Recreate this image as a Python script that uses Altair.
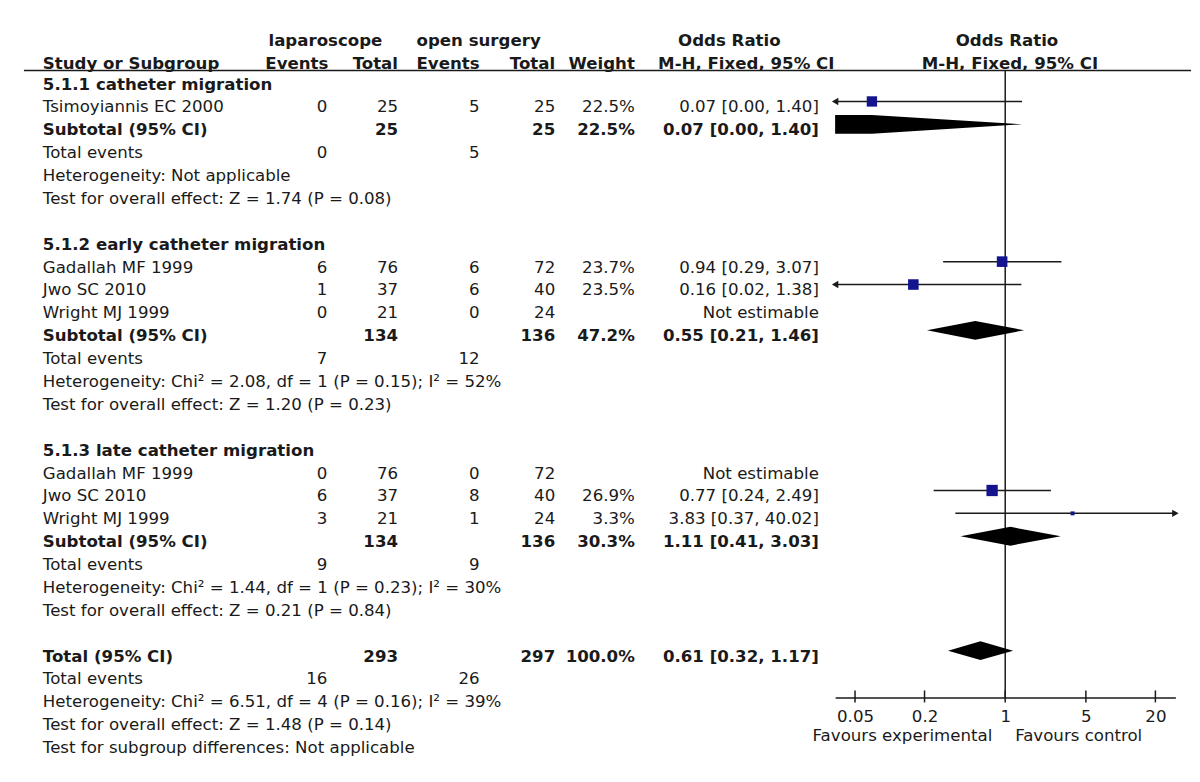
import math
import altair as alt
import pandas as pd

# ---------------- data ----------------
group_names = ["5.1.1 catheter migration", "5.1.2 early catheter migration", "5.1.3 late catheter migration"]

study_group = [0, 1, 1, 1, 2, 2, 2]
study_names = ["Tsimoyiannis EC 2000", "Gadallah MF 1999", "Jwo SC 2010", "Wright MJ 1999",
               "Gadallah MF 1999", "Jwo SC 2010", "Wright MJ 1999"]
lap_events = [0, 6, 1, 0, 0, 6, 3]
lap_total = [25, 76, 37, 21, 76, 37, 21]
open_events = [5, 6, 6, 0, 0, 8, 1]
open_total = [25, 72, 40, 24, 72, 40, 24]
study_weight = [22.5, 23.7, 23.5, None, None, 26.9, 3.3]
study_or = [0.07, 0.94, 0.16, None, None, 0.77, 3.83]
study_lo = [0.00, 0.29, 0.02, None, None, 0.24, 0.37]
study_hi = [1.40, 3.07, 1.38, None, None, 2.49, 40.02]

sub_lap_total = [25, 134, 134]
sub_open_total = [25, 136, 136]
sub_weight = [22.5, 47.2, 30.3]
sub_or = [0.07, 0.55, 1.11]
sub_lo = [0.00, 0.21, 0.41]
sub_hi = [1.40, 1.46, 3.03]
sub_lap_events = [0, 7, 9]
sub_open_events = [5, 12, 9]
sub_heterogeneity = ["Heterogeneity: Not applicable",
                     "Heterogeneity: Chi² = 2.08, df = 1 (P = 0.15); I² = 52%",
                     "Heterogeneity: Chi² = 1.44, df = 1 (P = 0.23); I² = 30%"]
sub_effect = ["Test for overall effect: Z = 1.74 (P = 0.08)",
              "Test for overall effect: Z = 1.20 (P = 0.23)",
              "Test for overall effect: Z = 0.21 (P = 0.84)"]

total_lap_total = 293
total_open_total = 297
total_weight = 100.0
total_or = [0.61, 0.32, 1.17]
total_lap_events = 16
total_open_events = 26
total_heterogeneity = "Heterogeneity: Chi² = 6.51, df = 4 (P = 0.16); I² = 39%"
total_effect = "Test for overall effect: Z = 1.48 (P = 0.14)"
total_subgroup = "Test for subgroup differences: Not applicable"

header_top = ["laparoscope", "open surgery", "Odds Ratio", "Odds Ratio"]
header_bottom = ["Study or Subgroup", "Events", "Total", "Events", "Total", "Weight",
                 "M-H, Fixed, 95% CI", "M-H, Fixed, 95% CI"]
favours = ["Favours experimental", "Favours control"]
tick_values = [0.05, 0.2, 1, 5, 20]

# ---------------- style / layout ----------------
FONT = "DejaVu Sans"
FS = 16.7
TXT = "#1a1a1a"
BLUE = "#14148f"
W, H = 1184, 691
DMIN, DMAX = 0.0336, 29.8
xs = alt.Scale(type="log", domain=[DMIN, DMAX], range=[831.3, 1173.3], nice=False, zero=False, clamp=True)
AX = alt.Axis(values=tick_values, title=None, grid=False, ticks=False, tickSize=0,
              domainColor=TXT, domainWidth=1.5, labelFont=FONT, labelFontSize=FS,
              labelColor=TXT, labelPadding=11, labelExpr="'' + datum.value",
              labelFlush=False, labelOverlap=False)
NROWS = 29
ys = alt.Scale(domain=[0, NROWS], range=[69, 69 + 23 * NROWS], nice=False, zero=False)
HALF = 0.41  # diamond half height in row units

COLS = {"label": (35, "left"), "lap_e": (321, "right"), "lap_t": (392, "right"),
        "open_e": (474, "right"), "open_t": (550, "right"), "weight": (630, "right"),
        "or": (815, "right")}


def f_or(e, lo, hi):
    return "Not estimable" if e is None else f"{e:.2f} [{lo:.2f}, {hi:.2f}]"


def f_w(w):
    return "" if w is None else f"{w:.1f}%"


cells, studies, diamonds = [], [], []


def add(row, col, text, bold):
    if text != "":
        cells.append({"row": row, "col": col, "text": text, "bold": 1 if bold else 0})


def add_diamond(did, row, e, lo, hi):
    pts = []
    if lo <= 0:
        pts.append((DMIN, 1.0))
    elif lo < DMIN:
        pts.append((DMIN, (math.log(DMIN) - math.log(lo)) / (math.log(e) - math.log(lo))))
    else:
        pts.append((lo, 0.0))
    pts.append((e, 1.0))
    pts.append((min(hi, DMAX), 0.0))
    for x, fr in pts:
        diamonds.append({"id": did, "x": x, "top": row - HALF * fr, "bot": row + HALF * fr})


k = 0
for g, gname in enumerate(group_names):
    add(k, "label", gname, True)
    k += 1
    for s in [i for i in range(len(study_names)) if study_group[i] == g]:
        add(k, "label", study_names[s], False)
        add(k, "lap_e", str(lap_events[s]), False)
        add(k, "lap_t", str(lap_total[s]), False)
        add(k, "open_e", str(open_events[s]), False)
        add(k, "open_t", str(open_total[s]), False)
        add(k, "weight", f_w(study_weight[s]), False)
        add(k, "or", f_or(study_or[s], study_lo[s], study_hi[s]), False)
        if study_or[s] is not None:
            studies.append({"row": k, "est": study_or[s], "weight": study_weight[s],
                            "lo": max(study_lo[s], DMIN), "hi": min(study_hi[s], DMAX),
                            "left": study_lo[s] < DMIN, "right": study_hi[s] > DMAX})
        k += 1
    add(k, "label", "Subtotal (95% CI)", True)
    add(k, "lap_t", str(sub_lap_total[g]), True)
    add(k, "open_t", str(sub_open_total[g]), True)
    add(k, "weight", f_w(sub_weight[g]), True)
    add(k, "or", f_or(sub_or[g], sub_lo[g], sub_hi[g]), True)
    add_diamond(f"g{g}", k, sub_or[g], sub_lo[g], sub_hi[g])
    k += 1
    add(k, "label", "Total events", False)
    add(k, "lap_e", str(sub_lap_events[g]), False)
    add(k, "open_e", str(sub_open_events[g]), False)
    k += 1
    add(k, "label", sub_heterogeneity[g], False)
    k += 1
    add(k, "label", sub_effect[g], False)
    k += 2

add(k, "label", "Total (95% CI)", True)
add(k, "lap_t", str(total_lap_total), True)
add(k, "open_t", str(total_open_total), True)
add(k, "weight", f_w(total_weight), True)
add(k, "or", f_or(*total_or), True)
add_diamond("total", k, *total_or)
k += 1
add(k, "label", "Total events", False)
add(k, "lap_e", str(total_lap_events), False)
add(k, "open_e", str(total_open_events), False)
k += 1
add(k, "label", total_heterogeneity, False)
k += 1
add(k, "label", total_effect, False)
k += 1
add(k, "label", total_subgroup, False)

cells_df = pd.DataFrame(cells)
stud_df = pd.DataFrame(studies)
dia_df = pd.DataFrame(diamonds)
left_df = stud_df[stud_df["left"]].assign(x=DMIN)[["row", "x"]]
right_df = stud_df[stud_df["right"]].assign(x=DMAX)[["row", "x"]]
tick_df = pd.DataFrame({"t": tick_values})
one_df = pd.DataFrame({"v": [1]})

Y = lambda f: alt.Y(f, type="quantitative", scale=ys, axis=None)
X = lambda f: alt.X(f, type="quantitative", scale=xs, axis=AX)

layers = []

# header line
layers.append(alt.Chart(one_df).mark_rule(color=TXT, strokeWidth=1.5).encode(
    x=alt.value(16), x2=alt.value(1189), y=alt.value(61)))
# line of no effect
layers.append(alt.Chart(one_df).mark_rule(color=TXT, strokeWidth=1.5).encode(
    x=X("v"), y=alt.value(61), y2=alt.value(H)))
# CI lines
layers.append(alt.Chart(stud_df).mark_rule(color=TXT, strokeWidth=1.5).encode(
    x=X("lo"), x2="hi:Q", y=Y("row")))
# arrows
layers.append(alt.Chart(left_df).mark_point(shape="triangle-left", filled=True, size=55,
                                             color=TXT, opacity=1).encode(x=X("x"), y=Y("row")))
layers.append(alt.Chart(right_df).mark_point(shape="triangle-right", filled=True, size=55,
                                              color=TXT, opacity=1).encode(x=X("x"), y=Y("row")))
# squares
layers.append(alt.Chart(stud_df).mark_square(color=BLUE, opacity=1).encode(
    x=X("est"), y=Y("row"),
    size=alt.Size("weight:Q", scale=alt.Scale(domain=[0, 100], range=[0, 480]), legend=None)))
# diamonds
layers.append(alt.Chart(dia_df).mark_area(color="#000000", opacity=1).encode(
    x=X("x"), y=Y("top"), y2="bot:Q", detail="id:N"))
# crossing ticks
layers.append(alt.Chart(tick_df).mark_rule(color=TXT, strokeWidth=1.5).encode(
    x=X("t"), y=alt.value(684), y2=alt.value(696)))

# favours labels
fav_df = pd.DataFrame({"v": [1, 1], "text": favours, "side": [0, 1]})
layers.append(alt.Chart(fav_df).transform_filter("datum.side == 0").mark_text(
    align="right", baseline="middle", dx=-13, font=FONT, fontSize=FS, color=TXT).encode(
    x=X("v"), y=alt.value(730), text="text:N"))
layers.append(alt.Chart(fav_df).transform_filter("datum.side == 1").mark_text(
    align="left", baseline="middle", dx=10, font=FONT, fontSize=FS, color=TXT).encode(
    x=X("v"), y=alt.value(730), text="text:N"))

# table text
for col, (cx, align) in COLS.items():
    for b in (0, 1):
        layers.append(alt.Chart(cells_df).transform_filter(
            f"datum.col == '{col}' && datum.bold == {b}").mark_text(
            align=align, baseline="middle", dy=6, font=FONT, fontSize=FS,
            fontWeight="bold" if b else "normal", color=TXT).encode(
            x=alt.value(cx), y=Y("row"), text="text:N"))

# headers
top_pos = [(319, "center"), (473, "center"), (725, "center"), (1004, "center")]
bot_pos = [(35, "left"), (322, "right"), (392, "right"), (474, "right"), (550, "right"),
           (630, "right"), (742, "center"), (1007, "center")]
for txt, (hx, al) in zip(header_top, top_pos):
    layers.append(alt.Chart(pd.DataFrame({"text": [txt]})).mark_text(
        align=al, baseline="middle", font=FONT, fontSize=FS, fontWeight="bold", color=TXT).encode(
        x=alt.value(hx), y=alt.value(31), text="text:N"))
for txt, (hx, al) in zip(header_bottom, bot_pos):
    layers.append(alt.Chart(pd.DataFrame({"text": [txt]})).mark_text(
        align=al, baseline="middle", font=FONT, fontSize=FS, fontWeight="bold", color=TXT).encode(
        x=alt.value(hx), y=alt.value(54), text="text:N"))

chart = alt.layer(*layers).properties(
    width=W, height=H,
    autosize=alt.AutoSizeParams(type="none"),
    padding={"left": 0, "top": 0, "right": 6, "bottom": 68},
    background="white",
).configure_view(stroke=None)

chart.save("out.html", embed_options={"renderer": "svg", "actions": False})
